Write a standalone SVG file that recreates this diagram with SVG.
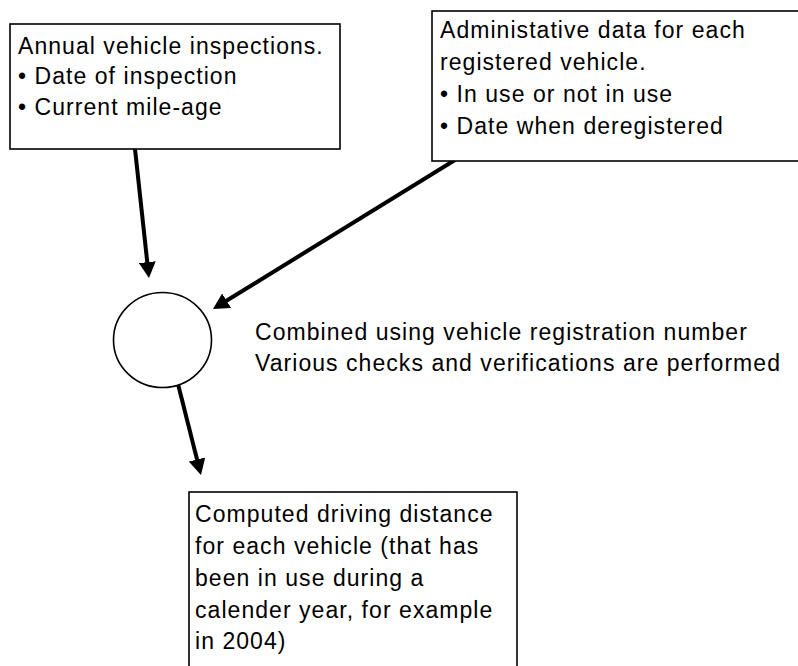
<svg xmlns="http://www.w3.org/2000/svg" width="798" height="666" viewBox="0 0 798 666">
<style>
.box{fill:#fff;stroke:#000;stroke-width:1.6}
.t{font-family:"Liberation Sans",Arial,sans-serif;font-size:23px;letter-spacing:1.05px;fill:#000}
.conn{stroke:#000;stroke-width:4;fill:none;marker-end:url(#ah)}
</style>
<defs>
<marker id="ah" markerUnits="userSpaceOnUse" markerWidth="16" markerHeight="17" refX="6" refY="8.5" orient="auto">
<path d="M0,0 L16,8.5 L0,17 z" fill="#000"/>
</marker>
</defs>
<rect width="798" height="666" fill="#fff"/>
<g id="connectors">
<line class="conn" x1="135" y1="149" x2="147.9" y2="268.1"/>
<line class="conn" x1="455" y1="160" x2="221.5" y2="303.8"/>
<line class="conn" x1="178" y1="384" x2="198.5" y2="465.3"/>
</g>
<g id="inspections">
<rect class="box" x="10" y="24" width="330" height="125"/>
<text class="t" x="18" y="54">Annual vehicle inspections.</text>
<text class="t" x="18" y="84">• Date of inspection</text>
<text class="t" x="18" y="115">• Current mile-age</text>
</g>
<g id="admin">
<rect class="box" x="432" y="11" width="380" height="150"/>
<text class="t" x="440" y="38">Administative data for each</text>
<text class="t" x="440" y="70">registered vehicle.</text>
<text class="t" x="440" y="102">• In use or not in use</text>
<text class="t" x="440" y="134">• Date when deregistered</text>
</g>
<g id="combine">
<ellipse cx="162.5" cy="340" rx="49" ry="47.5" fill="#fff" stroke="#000" stroke-width="1.6"/>
</g>
<g id="combine-label">
<text class="t" x="255" y="340">Combined using vehicle registration number</text>
<text class="t" x="255" y="371">Various checks and verifications are performed</text>
</g>
<g id="result">
<rect class="box" x="189" y="492" width="328" height="190"/>
<text class="t" x="195" y="522">Computed driving distance</text>
<text class="t" x="195" y="554">for each vehicle (that has</text>
<text class="t" x="195" y="586">been in use during a</text>
<text class="t" x="195" y="618">calender year, for example</text>
<text class="t" x="195" y="649">in 2004)</text>
</g>
</svg>
